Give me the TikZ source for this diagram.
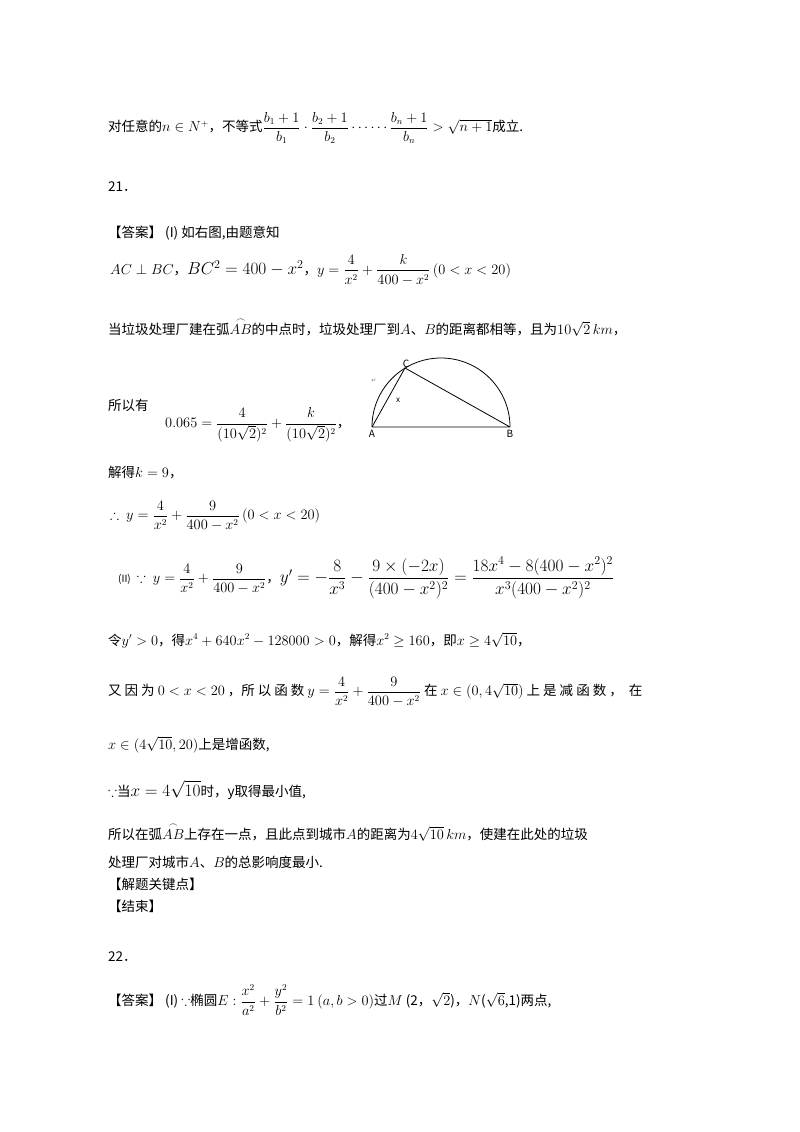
\documentclass[tikz,border=0pt]{standalone}
\usepackage{amsmath,amssymb}
\usepackage{fontspec}
\setmainfont{Noto Sans CJK SC}
\newfontfamily\dejavu{DejaVu Sans}
\newcommand{\arcab}{\overset{\frown}{AB}}
\begin{document}
\begin{tikzpicture}[x=1pt,y=-1pt,
  t/.style={anchor=west,inner sep=0pt,font=\fontsize{13.5}{16}\selectfont},
  seg/.style={line width=0.8pt}]
\useasboundingbox (0,0) rectangle (800,1132);
\node[t] (l1) at (108,128) {对任意的$n\in N^{+}$，不等式$\dfrac{b_1+1}{b_1}\cdot\dfrac{b_2+1}{b_2}\cdots\cdots\dfrac{b_n+1}{b_n}>\sqrt{n+1}$成立.};
\node[t] (n21) at (108,187) {21．};
\node[t] (l2) at (108,233) {【答案】 (I) 如右图,由题意知};
\node[t] (l3) at (110,270) {$AC\perp BC$，{\fontsize{17}{20}\selectfont$BC^2=400-x^2$}，$y=\dfrac{4}{x^2}+\dfrac{k}{400-x^2}\,(0<x<20)$};
\node[t] (l4) at (108,327) {当垃圾处理厂建在弧$\arcab$的中点时，垃圾处理厂到$A$、$B$的距离都相等，且为$10\sqrt2\,km$，};
\node[t] (l5) at (108,405) {所以有};
\node[t] (l5b) at (165,425) {$0.065=\dfrac{4}{(10\sqrt2)^2}+\dfrac{k}{(10\sqrt2)^2}$，};
% figure
\coordinate (A) at (372,427);
\coordinate (B) at (510,427);
\coordinate (C) at (405,368);
\draw[seg] (B) arc[start angle=0,end angle=-180,radius=69];
\draw[seg] (A) -- (B) (A) -- (C) -- (B);
\node[inner sep=0pt,font=\fontsize{10}{10}\selectfont] (la) at (372,434) {A};
\node[inner sep=0pt,font=\fontsize{10}{10}\selectfont] (lb) at (510,434) {B};
\node[inner sep=0pt,font=\fontsize{10}{10}\selectfont] (lc) at (406,364) {C};
\node[inner sep=0pt,font=\fontsize{8}{8}\selectfont] (lx) at (398,400) {x};
\node[inner sep=0pt,font=\dejavu\fontsize{6}{6}\selectfont,gray] (ret) at (374,381) {↵};
\node[t] (l6) at (108,473) {解得$k=9$，};
\node[t] (l7) at (110,516) {$\therefore\ y=\dfrac{4}{x^2}+\dfrac{9}{400-x^2}\,(0<x<20)$};
\node[t] (l8) at (118,578) {{\fontsize{10}{12}\selectfont (II)}\ \ $\because\ y=\dfrac{4}{x^2}+\dfrac{9}{400-x^2}$，{\fontsize{18.5}{22}\selectfont$y'=-\dfrac{8}{x^3}-\dfrac{9\times(-2x)}{(400-x^2)^2}=\dfrac{18x^4-8(400-x^2)^2}{x^3(400-x^2)^2}$}};
\node[t] (l9) at (108,640) {令$y'>0$，得$x^4+640x^2-128000>0$，解得$x^2\ge160$，即$x\ge4\sqrt{10}$，};
\node[t,text width=572pt,align=justify] (l10) at (108,692) {又\ 因\ 为\ $0<x<20$\ ，所\ 以\ 函\ 数\ $y=\dfrac{4}{x^2}+\dfrac{9}{400-x^2}$\ 在\ $x\in(0,4\sqrt{10})$\ 上\ 是\ 减\ 函\ 数\ ，\ \ 在};
\node[t] (l11) at (108,745) {$x\in(4\sqrt{10},20)$上是增函数,};
\node[t] (l12) at (108,790) {$\because$当{\fontsize{16}{18}\selectfont$x=4\sqrt{10}$}时，y取得最小值,};
\node[t] (l13) at (108,832) {所以在弧$\arcab$上存在一点，且此点到城市$A$的距离为$4\sqrt{10}\,km$，使建在此处的垃圾};
\node[t] (l14) at (108,862) {处理厂对城市$A$、$B$的总影响度最小.};
\node[t] (l15) at (108,884) {【解题关键点】};
\node[t] (l16) at (108,906) {【结束】};
\node[t] (n22) at (108,957) {22．};
\node[t] (l17) at (108,1000) {【答案】 (I) $\because$椭圆$E:\dfrac{x^2}{a^2}+\dfrac{y^2}{b^2}=1$\ $(a,b>0)$过$M$\ (2，$\sqrt2$)，$N$($\sqrt6$,1)两点,};
\end{tikzpicture}
\end{document}
